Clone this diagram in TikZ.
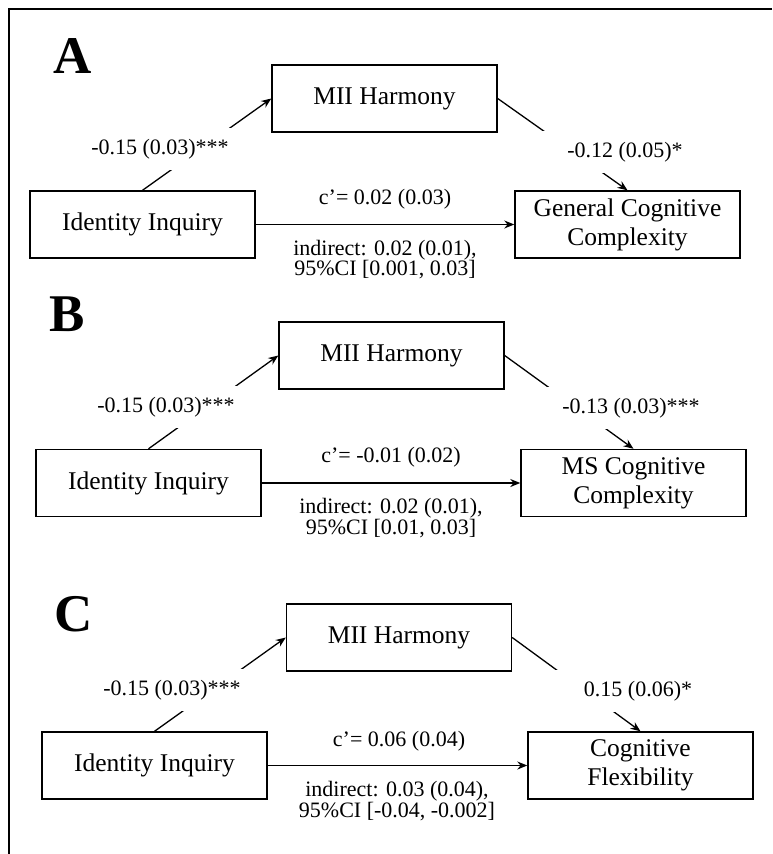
\documentclass[tikz,border=0pt]{standalone}
\usepackage{fontspec}
\setmainfont{Liberation Serif}
\usetikzlibrary{arrows.meta}
\tikzset{box/.style = {draw, fill=white, line width=1.4pt, rectangle, minimum height=67pt, minimum width=225pt, align=center, font=\fontsize{25.5}{29}\selectfont},
         coef/.style = {fill=white, inner xsep=32pt, minimum height=42pt, font=\fontsize{22}{20.5}\selectfont},
         eff/.style = {align=center, font=\fontsize{22}{20.5}\selectfont},
         link/.style = {-{Stealth[length=10pt, width=8pt]}, line width=1.3pt},
         letter/.style = {anchor=west, inner sep=0pt, font=\fontsize{53}{53}\selectfont\bfseries}}

\begin{document}
\begin{tikzpicture}[x=1pt, y=-1pt]
    \useasboundingbox (0,0) rectangle (772,854);
    \draw[line width=2.5pt](772,9)--(9,9)--(9,854);

    % panel A
    \node[letter](lA)at(53,56.5){A};
    \node[box](idA)at(142.5,224.5){Identity Inquiry};
    \node[box](mhA)at(384.5,98.5){MII Harmony};
    \node[box](outA)at(627.5,224.5){General Cognitive\\Complexity};
    \draw[link](idA.north)--(mhA.west);
    \draw[link](mhA.east)--(outA.north);
    \draw[link](idA.east)--(outA.west);
    \node[coef](aA)at(160,149){-0.15 (0.03)***};
    \node[coef](bA)at(625,152){-0.12 (0.05)*};
    \node[eff](cA)at(385,199){c’= 0.02 (0.03)};
    \node[eff](iA)at(385,259.5){indirect: 0.02 (0.01),\\95\%CI [0.001, 0.03]};

    % panel B
    \node[letter](lB)at(49,314){B};
    \node[box](idB)at(148.5,483){Identity Inquiry};
    \node[box](mhB)at(391.5,355.5){MII Harmony};
    \node[box](outB)at(633.5,483){MS Cognitive\\Complexity};
    \draw[link](idB.north)--(mhB.west);
    \draw[link](mhB.east)--(outB.north);
    \draw[link](idB.east)--(outB.west);
    \node[coef](aB)at(166,407){-0.15 (0.03)***};
    \node[coef](bB)at(631,408){-0.13 (0.03)***};
    \node[eff](cB)at(391,457){c’= -0.01 (0.02)};
    \node[eff](iB)at(391,518){indirect: 0.02 (0.01),\\95\%CI [0.01, 0.03]};

    % panel C
    \node[letter](lC)at(54,614.5){C};
    \node[box](idC)at(154.5,765.5){Identity Inquiry};
    \node[box](mhC)at(399,637.5){MII Harmony};
    \node[box](outC)at(640.5,765.5){Cognitive\\Flexibility};
    \draw[link](idC.north)--(mhC.west);
    \draw[link](mhC.east)--(outC.north);
    \draw[link](idC.east)--(outC.west);
    \node[coef](aC)at(172,690){-0.15 (0.03)***};
    \node[coef](bC)at(638,691){0.15 (0.06)*};
    \node[eff](cC)at(399,741){c’= 0.06 (0.04)};
    \node[eff](iC)at(397,801){indirect: 0.03 (0.04),\\95\%CI [-0.04, -0.002]};
\end{tikzpicture}
\end{document}
